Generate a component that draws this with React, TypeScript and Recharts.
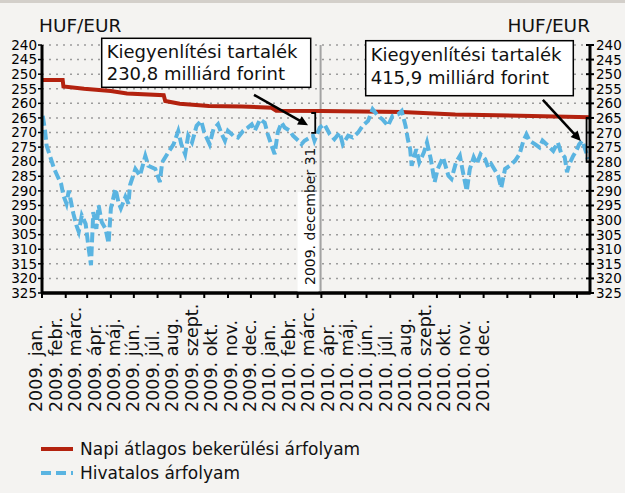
import React from 'react';
import { ComposedChart, Line, XAxis, YAxis, CartesianGrid, ReferenceLine } from 'recharts';

// x values are days counted from 2009-01-01
const monthLabels = [
  '2009. jan.', '2009. febr.', '2009. márc.', '2009. ápr.', '2009. máj.', '2009. jún.',
  '2009. júl.', '2009. aug.', '2009. szept.', '2009. okt.', '2009. nov.', '2009. dec.',
  '2010. jan.', '2010. febr.', '2010. márc.', '2010. ápr.', '2010. máj.', '2010. jún.',
  '2010. júl.', '2010. aug.', '2010. szept.', '2010. okt.', '2010. nov.', '2010. dec.',
];
const monthStartDays = [0, 31, 59, 90, 120, 151, 181, 212, 243, 273, 304, 334, 365, 396, 424, 455, 485, 516, 546, 577, 608, 638, 669, 699];
const yTicks = [240, 245, 250, 255, 260, 265, 270, 275, 280, 285, 290, 295, 300, 305, 310, 315, 320, 325];

// Napi átlagos bekerülési árfolyam
const avgDays = [0, 27, 28, 55, 90, 111, 159, 161, 180, 218, 261, 300, 306, 365, 470, 540, 640, 716];
const avgRate = [252, 252, 254.2, 255, 255.8, 256.6, 257.2, 259.2, 260.1, 260.9, 261.1, 261.5, 262.5, 262.6, 263, 263.8, 264.3, 264.8];

// Hivatalos árfolyam
const officialDays = [
  1, 4, 6, 11, 16, 20, 25, 28, 32, 35, 38, 41, 45, 48, 52, 57, 61, 64, 67, 71, 74, 78, 83, 87, 90, 96, 100, 103, 109, 113,
  115, 122, 128, 135, 139, 148, 154, 157, 165, 172, 178, 182, 187, 191, 196, 202, 208, 212, 219, 224, 230, 234, 239, 243,
  250, 256, 263, 269, 274, 278, 285, 291, 295, 300, 304, 308, 313, 317, 324, 328, 335, 339, 343, 350, 354, 356, 363,
  369, 376, 382, 389, 393, 400, 406, 413, 419, 426, 432, 439, 445, 452, 458, 465, 470, 475, 478, 481, 483, 489, 493,
  499, 503, 508, 513, 517, 524, 531, 535, 541, 546, 550, 555, 559, 564, 568, 573, 579, 583, 587, 592, 596, 600, 605,
  611, 618, 624, 629, 633, 637, 644, 650, 654, 661, 668, 674, 678, 683, 686, 689, 694, 698, 702, 706, 711, 713,
];
const officialRate = [
  264.3, 269.4, 274.5, 278.5, 282.5, 284.8, 287.6, 291.6, 294.4, 289.9, 293.9, 297.8, 301.8, 304, 298.4, 301.3, 309.8, 315.5, 297.3, 303, 295, 300.7, 303, 308, 296, 289.3, 294, 296, 292, 294.4,
  288, 282.5, 284.8, 278, 281.4, 282.5, 287, 280.2, 276.8, 274, 269.5, 274, 277.4, 271.1, 273.4, 267.7, 266, 270, 274, 268.9, 267.2, 270, 272.8, 269.4,
  271.1, 271.7, 269.4, 268.3, 267.2, 269.4, 265.5, 266.6, 270.6, 274.5, 277.4, 270, 266.6, 268.3, 269.4, 271.1, 272.8, 274, 272.8, 271.7, 271.1, 272.8, 268.3,
  267.2, 270.6, 272.3, 270, 274, 271.1, 271.7, 270, 267.7, 266, 262, 264.3, 265.5, 267.7, 264.3, 263.8, 262.6, 267.7, 272.3, 275.7, 281.4, 275.7, 280.2,
  276.8, 273.4, 279.1, 287, 282.5, 278.5, 284.8, 285.9, 280.2, 278, 283.6, 290, 282.5, 278.5, 280.8, 277.4, 279.1, 282, 280.8, 283, 284.8, 289, 282.5,
  281.4, 279.7, 277.4, 272.8, 270.6, 272.8, 274, 275.1, 272.8, 274.5, 276.3, 273.4, 276.8, 278.5, 283.6, 280.8, 278, 276.3, 274, 272.8, 276.8, 279.1,
];

const avgData = avgDays.map((day, i) => ({ day, value: avgRate[i] }));
const officialData = officialDays.map((day, i) => ({ day, value: officialRate[i] }));
// positions for the month label axis (no values, only drives the label axis)
const monthData = monthLabels.map((label, i) => ({ day: i, label }));

const RED = '#b3220f';
const BLUE = '#5ab4e1';
const BG = '#f4f3f1';

// plot box (left/right y axis widths, chart height minus bottom axis)
const PLOT_LEFT = 42;
const PLOT_RIGHT = 590;
const PLOT_BOTTOM = 293;
const LAST_DAY = 716;
const dayX = (d: number) => PLOT_LEFT + (d / LAST_DAY) * (PLOT_RIGHT - PLOT_LEFT);

const MonthTick = (props: any) => {
  const { x, y, payload } = props;
  const ty = y + 119;
  return (
    <text x={x} y={ty} transform={`rotate(-90, ${x}, ${ty})`} textAnchor="start" dominantBaseline="central" fontSize={17.5} fill="#111">
      {monthLabels[payload.value]}
    </text>
  );
};

const RightTick = (props: any) => {
  const { x, y, payload } = props;
  return (
    <g>
      <line x1={x - 4} x2={x + 4} y1={y} y2={y} stroke="#000" strokeWidth={2} />
      <text x={x + 6} y={y} dominantBaseline="central" fontSize={13.5} fill="#000">{payload.value}</text>
    </g>
  );
};

const Arrow = (p: any) => {
  const { x1, y1, x2, y2 } = p;
  const a = Math.atan2(y2 - y1, x2 - x1);
  const len = 11;
  const w = 0.45;
  const pts = [
    [x2, y2],
    [x2 - len * Math.cos(a - w), y2 - len * Math.sin(a - w)],
    [x2 - len * Math.cos(a + w), y2 - len * Math.sin(a + w)],
  ].map((q) => q.join(',')).join(' ');
  return (
    <g>
      <line x1={x1} y1={y1} x2={x2 - 6 * Math.cos(a)} y2={y2 - 6 * Math.sin(a)} stroke="#000" strokeWidth={2.5} />
      <polygon points={pts} fill="#000" />
    </g>
  );
};

const Bracket = (p: any) => {
  const { x1, y1, x2, y2, dir } = p;
  const d = dir * 4;
  return <path d={`M${x1 + d},${y1} L${x1},${y1} L${x2},${y2} L${x2 + d},${y2}`} fill="none" stroke="#000" strokeWidth={1.8} />;
};

const DecLabel = (props: any) => {
  const vb = props.viewBox || {};
  const bottom = vb.y + vb.height;
  const tx = vb.x - 6;
  const ty = bottom - 8;
  return (
    <g>
      <rect x={vb.x - 23} y={bottom - 101} width={21} height={100} fill="#fff" />
      <text x={tx} y={ty} transform={`rotate(-90, ${tx}, ${ty})`} fontSize={14} fill="#111">2009. december 31</text>
    </g>
  );
};

const NoteBox = ({ x, y, w, h, lines, gap }: { x: number; y: number; w: number; h: number; lines: string[]; gap: number }) => (
  <g>
    <rect x={x} y={y} width={w} height={h} fill="#fff" stroke="#000" strokeWidth={1.5} />
    {lines.map((t, i) => (
      <text key={i} x={x + 5} y={y + 20 + i * gap} fontSize={18} fill="#111">{t}</text>
    ))}
  </g>
);

export default function App() {
  return (
    <div style={{ position: 'absolute', left: 0, top: 0, width: 625, height: 493, background: BG, borderTop: '3px solid #d3cfca', boxSizing: 'border-box', fontFamily: 'DejaVu Sans' }}>
      <div style={{ position: 'absolute', left: 0, top: -3 }}>
        <ComposedChart width={625} height={430} margin={{ top: 45, right: 0, bottom: 0, left: 0 }}>
          <CartesianGrid xAxisId="date" yAxisId="l" horizontal vertical={false} stroke="#9c9c9c" strokeWidth={1.5} strokeDasharray="2 5" />
          <XAxis xAxisId="date" type="number" dataKey="day" domain={[0, LAST_DAY]} hide height={0} allowDataOverflow />
          <XAxis xAxisId="month" type="number" dataKey="day" domain={[0.29, 28.51]} ticks={monthData.map((m) => m.day)} interval={0} tick={<MonthTick />} tickSize={0} tickMargin={0} height={137} axisLine={{ stroke: '#000', strokeWidth: 3 }} tickLine={false} allowDataOverflow />
          <YAxis yAxisId="l" orientation="left" type="number" domain={[240, 325]} reversed ticks={yTicks} interval={0} width={42} tickSize={4} tickMargin={1} tick={{ fill: '#000', fontSize: 13.5 }} axisLine={{ stroke: '#000', strokeWidth: 3 }} tickLine={{ stroke: '#000', strokeWidth: 1.5 }} allowDataOverflow />
          <YAxis yAxisId="r" orientation="right" type="number" domain={[240, 325]} reversed ticks={yTicks} interval={0} width={35} tickSize={0} tickMargin={0} tick={<RightTick />} axisLine={{ stroke: '#000', strokeWidth: 3 }} tickLine={false} allowDataOverflow />
          <Line xAxisId="month" yAxisId="l" data={monthData} dataKey="value" stroke="none" dot={false} activeDot={false} legendType="none" isAnimationActive={false} />
          <ReferenceLine xAxisId="date" yAxisId="l" x={364} stroke="#a3a3a3" strokeWidth={2} label={<DecLabel />} />
          <Line xAxisId="date" yAxisId="l" data={avgData} dataKey="value" type="linear" stroke={RED} strokeWidth={4} dot={false} activeDot={false} isAnimationActive={false} />
          <Line xAxisId="date" yAxisId="l" data={officialData} dataKey="value" type="linear" stroke={BLUE} strokeWidth={4} strokeDasharray="10 4" dot={false} activeDot={false} isAnimationActive={false} />
          <ReferenceLine xAxisId="date" yAxisId="l" segment={[{ x: 277, y: 257.1 }, { x: 347.6, y: 267.5 }]} shape={<Arrow />} />
          <ReferenceLine xAxisId="date" yAxisId="l" segment={[{ x: 654.4, y: 258.8 }, { x: 704, y: 272.9 }]} shape={<Arrow />} />
          <ReferenceLine xAxisId="date" yAxisId="l" segment={[{ x: 357, y: 263.3 }, { x: 357, y: 270.1 }]} shape={<Bracket dir={-1} />} />
          <ReferenceLine xAxisId="date" yAxisId="l" segment={[{ x: 711.5, y: 265.1 }, { x: 711.5, y: 280 }]} shape={<Bracket dir={1} />} />
          <NoteBox x={101.7} y={38.3} w={209} h={49} lines={['Kiegyenlítési tartalék', '230,8 milliárd forint']} gap={22} />
          <NoteBox x={365.7} y={40.7} w={207.6} h={55} lines={['Kiegyenlítési tartalék', '415,9 milliárd forint']} gap={23} />
          <text x={39} y={31.5} fontSize={18.5} fill="#111">HUF/EUR</text>
          <text x={590} y={31.5} fontSize={18.5} fill="#111" textAnchor="end">HUF/EUR</text>
          {/* bottom axis line with month tick marks */}
          <g>
            <line x1={PLOT_LEFT - 1} y1={PLOT_BOTTOM} x2={PLOT_RIGHT + 1} y2={PLOT_BOTTOM} stroke="#000" strokeWidth={3} />
            {monthStartDays.map((d) => (
              <line key={d} x1={dayX(d)} y1={PLOT_BOTTOM} x2={dayX(d)} y2={PLOT_BOTTOM + 5} stroke="#000" strokeWidth={2} />
            ))}
          </g>
        </ComposedChart>
      </div>
      <div style={{ position: 'absolute', left: 41, top: 434, fontSize: 17, lineHeight: '24px', color: '#111' }}>
        <div style={{ display: 'flex', alignItems: 'center' }}>
          <svg width={32} height={6}><line x1={0} x2={32} y1={3} y2={3} stroke={RED} strokeWidth={4} /></svg>
          <span style={{ marginLeft: 7 }}>Napi átlagos bekerülési árfolyam</span>
        </div>
        <div style={{ display: 'flex', alignItems: 'center' }}>
          <svg width={32} height={6}><line x1={0} x2={32} y1={3} y2={3} stroke={BLUE} strokeWidth={4} strokeDasharray="10 5" /></svg>
          <span style={{ marginLeft: 7 }}>Hivatalos árfolyam</span>
        </div>
      </div>
    </div>
  );
}
